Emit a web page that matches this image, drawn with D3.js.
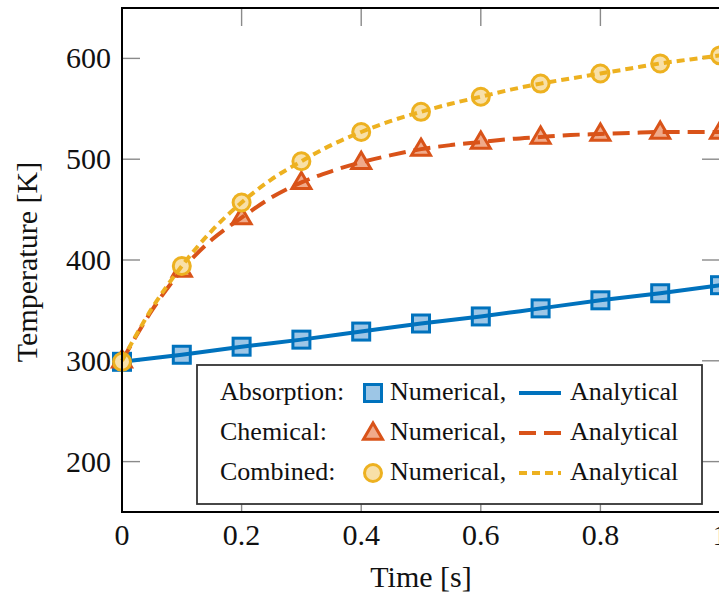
<!DOCTYPE html>
<html>
<head>
<meta charset="utf-8">
<script src="https://cdn.jsdelivr.net/npm/d3@7"></script>
<style>
  body { margin: 0; background: #fff; }
  text { font-family: "Liberation Serif", "Times New Roman", serif; fill: #111; }
</style>
</head>
<body>
<div id="chart"></div>
<script>
// Numerical samples (markers)
const times = [0, 0.1, 0.2, 0.3, 0.4, 0.5, 0.6, 0.7, 0.8, 0.9, 1.0];
const absorptionNum = [299, 306, 314, 321, 329, 337, 344, 352, 360, 367, 375];
const chemicalNum = [300, 390, 442, 477, 497, 510, 517, 522, 525, 527, 527];
const combinedNum = [299, 394, 457, 498, 527, 547, 562, 575, 585, 595, 603];

// Analytical curves
const absorptionTimes = [0, 0.1, 0.2, 0.3, 0.4, 0.5, 0.6, 0.7, 0.8, 0.9, 1.0];
const absorptionAna = [299, 306, 314, 321, 329, 337, 344, 352, 360, 367, 375];
const curveTimes = [0, 0.05, 0.1, 0.15, 0.2, 0.25, 0.3, 0.35, 0.4, 0.45, 0.5,
                    0.55, 0.6, 0.65, 0.7, 0.75, 0.8, 0.85, 0.9, 0.95, 1.0];
const chemicalAna = [300, 350, 390, 420, 442, 462, 477, 488, 497, 504, 510,
                     514, 517, 520, 522, 524, 525, 526, 527, 527, 527];
const combinedAna = [300, 352, 394, 429, 457, 480, 498, 514, 527, 538, 547,
                     555, 562, 569, 575, 580, 585, 590, 595, 599, 603];

const xTicks = [0, 0.2, 0.4, 0.6, 0.8, 1];
const yTicks = [200, 300, 400, 500, 600];

const width = 719, height = 596;
const margin = { top: 8, right: -1, bottom: 84, left: 122 };
const fontSize = 26;      // legend
const tickFont = 30;      // tick labels
const labelFont = 30;     // axis titles

const svg = d3.select("#chart")
    .append("svg")
    .attr("width", width)
    .attr("height", height);

const x = d3.scaleLinear()
    .domain([0, 1])
    .range([margin.left, width - margin.right]);

const y = d3.scaleLinear()
    .domain([150, 650])
    .range([height - margin.bottom, margin.top]);

const tickLen = 18;

// Inner ticks on all four sides
const ticks = svg.append("g")
    .attr("stroke", "#8a8a8a")
    .attr("stroke-width", 1.4);

xTicks.forEach(t => {
    ticks.append("line")
        .attr("x1", x(t)).attr("x2", x(t))
        .attr("y1", y(150)).attr("y2", y(150) - tickLen);
    ticks.append("line")
        .attr("x1", x(t)).attr("x2", x(t))
        .attr("y1", y(650)).attr("y2", y(650) + tickLen);
});
yTicks.forEach(t => {
    ticks.append("line")
        .attr("x1", x(0)).attr("x2", x(0) + tickLen)
        .attr("y1", y(t)).attr("y2", y(t));
    ticks.append("line")
        .attr("x1", x(1)).attr("x2", x(1) - tickLen)
        .attr("y1", y(t)).attr("y2", y(t));
});

// Tick labels
svg.append("g")
    .selectAll("text")
    .data(xTicks)
    .enter().append("text")
    .attr("x", d => x(d))
    .attr("y", 545)
    .attr("text-anchor", "middle")
    .style("font-size", tickFont + "px")
    .text(d => d3.format("~g")(d));

svg.append("g")
    .selectAll("text")
    .data(yTicks)
    .enter().append("text")
    .attr("x", 111)
    .attr("y", d => y(d) + 10)
    .attr("text-anchor", "end")
    .style("font-size", tickFont + "px")
    .text(d => d);

// Axis labels
svg.append("text")
    .attr("x", (x(0) + x(1)) / 2)
    .attr("y", 587)
    .attr("text-anchor", "middle")
    .style("font-size", labelFont + "px")
    .text("Time [s]");

svg.append("text")
    .attr("transform", "rotate(-90)")
    .attr("x", -(y(150) + y(650)) / 2 - 2)
    .attr("y", 37)
    .attr("text-anchor", "middle")
    .style("font-size", labelFont + "px")
    .text("Temperature [K]");

// Series styles
const series = [
    { name: "Absorption:", num: absorptionNum, at: absorptionTimes, ana: absorptionAna,
      color: "#0072BD", fill: "#9DC6E6", marker: "square", dash: null },
    { name: "Chemical:", num: chemicalNum, at: curveTimes, ana: chemicalAna,
      color: "#D95319", fill: "#F0AA8A", marker: "triangle", dash: "17,8" },
    { name: "Combined:", num: combinedNum, at: curveTimes, ana: combinedAna,
      color: "#EDB120", fill: "#F8E0A8", marker: "circle", dash: "8,5" }
];

function drawMarker(g, type, cx, cy, s) {
    if (type === "square") {
        return g.append("rect")
            .attr("x", cx - 8.5).attr("y", cy - 8.5)
            .attr("width", 17).attr("height", 17)
            .attr("fill", s.fill).attr("stroke", s.color).attr("stroke-width", 3);
    }
    if (type === "triangle") {
        const r = 10;
        const pts = [[cx, cy - r], [cx + r * 0.95, cy + r * 0.62], [cx - r * 0.95, cy + r * 0.62]];
        return g.append("path")
            .attr("d", "M" + pts.join("L") + "Z")
            .attr("fill", s.fill).attr("stroke", s.color).attr("stroke-width", 3)
            .attr("stroke-linejoin", "miter");
    }
    return g.append("circle")
        .attr("cx", cx).attr("cy", cy).attr("r", 8.5)
        .attr("fill", s.fill).attr("stroke", s.color).attr("stroke-width", 3);
}

const plot = svg.append("g");

series.forEach(s => {
    const g = plot.append("g");
    times.forEach((t, i) => drawMarker(g, s.marker, x(t), y(s.num[i]), s));

    const line = d3.line()
        .x(d => x(d[0]))
        .y(d => y(d[1]))
        .curve(d3.curveMonotoneX);

    g.append("path")
        .datum(s.at.map((t, i) => [t, s.ana[i]]))
        .attr("d", line)
        .attr("fill", "none")
        .attr("stroke", s.color)
        .attr("stroke-width", 4)
        .attr("stroke-dasharray", s.dash);
});

// Axis frame
svg.append("rect")
    .attr("x", x(0)).attr("y", y(650))
    .attr("width", x(1) - x(0)).attr("height", y(150) - y(650))
    .attr("fill", "none")
    .attr("stroke", "#000")
    .attr("stroke-width", 2);

// Legend
const legend = svg.append("g");
legend.append("rect")
    .attr("x", 197).attr("y", 365)
    .attr("width", 505).attr("height", 139)
    .attr("fill", "#fff")
    .attr("stroke", "#333")
    .attr("stroke-width", 1.8);

series.forEach((s, i) => {
    const base = 400 + i * 40;
    const my = base - 7;
    legend.append("text")
        .attr("x", 220).attr("y", base)
        .style("font-size", fontSize + "px")
        .text(s.name);
    drawMarker(legend, s.marker, 373, my, s);
    legend.append("text")
        .attr("x", 390).attr("y", base)
        .style("font-size", fontSize + "px")
        .text("Numerical,");
    legend.append("line")
        .attr("x1", 519).attr("x2", 561)
        .attr("y1", my).attr("y2", my)
        .attr("stroke", s.color)
        .attr("stroke-width", 4)
        .attr("stroke-dasharray", s.dash);
    legend.append("text")
        .attr("x", 570).attr("y", base)
        .style("font-size", fontSize + "px")
        .text("Analytical");
});
</script>
</body>
</html>
